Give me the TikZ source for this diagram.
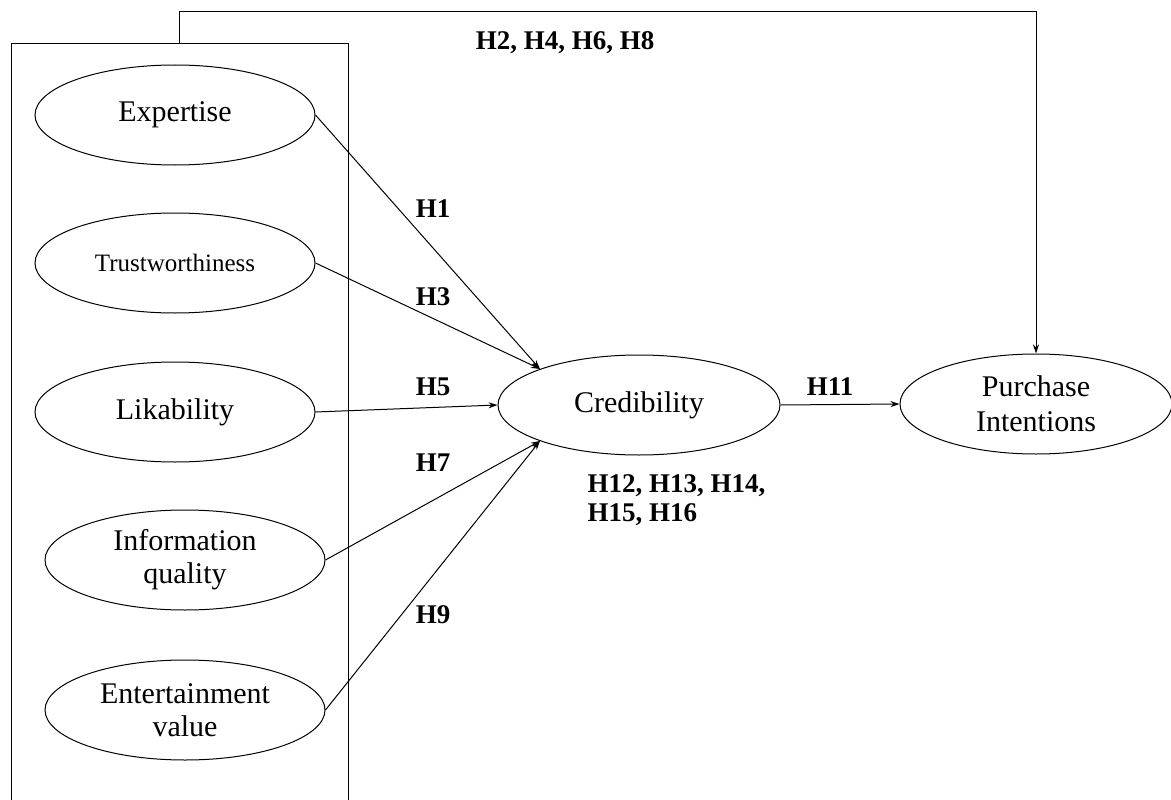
\documentclass[tikz,border=0pt]{standalone}
\usepackage{fontspec}
\setmainfont{Liberation Serif}
\usetikzlibrary{positioning,shapes.geometric,arrows.meta}

\begin{document}
\begin{tikzpicture}[x=1pt,y=-1pt,>={Stealth[length=9pt,width=6pt]},line width=1pt,
  var/.style={ellipse,draw,minimum width=280pt,minimum height=100pt,inner sep=0pt,
    align=center,font=\fontsize{30}{33}\selectfont},
  hyp/.style={font=\fontsize{27}{29}\selectfont\bfseries}]
  \useasboundingbox (0,0) rectangle (1171,800);
  % box round the source constructs
  \draw (11,800) -- (11,44) -- (348,44) -- (348,800);
  \coordinate (boxtop) at (179,44);
  \node[var] (exp) at (175,115) {Expertise};
  \node[var,font=\fontsize{25}{28}\selectfont] (tru) at (175,263) {Trustworthiness};
  \node[var] (lik) at (175,412) {Likability};
  \node[var] (inf) at (185,560) {Information\\quality};
  \node[var] (ent) at (185,710) {Entertainment\\value};
  \node[var,minimum width=282pt] (cred) at (639,405) {Credibility};
  \node[var,minimum width=272pt,font=\fontsize{30}{35}\selectfont] (pi) at (1036,404) {Purchase\\Intentions};
  \draw[->] (exp.east) -- (cred.160);
  \draw[->] (tru.east) -- (cred.160);
  \draw[->] (lik.east) -- (cred.west);
  \draw[->] (inf.east) -- (cred.200);
  \draw[->] (ent.east) -- (cred.200);
  \draw[->] (cred.east) -- (pi.west);
  \draw[->] (boxtop) -- ++(0,-32) -| (pi.north);
  % hypotheses
  \node[hyp] (h1) at (433,209) {H1};
  \node[hyp] (h3) at (433,297) {H3};
  \node[hyp] (h5) at (433,387) {H5};
  \node[hyp] (h7) at (433,463) {H7};
  \node[hyp] (h9) at (433,615) {H9};
  \node[hyp] (h11) at (830,387) {H11};
  \node[hyp] (h2) at (565,43) {H2, H4, H6, H8};
  \node[hyp,align=left,anchor=north west,inner sep=0pt] (h12) at (587,474) {H12, H13, H14,\\H15, H16};
\end{tikzpicture}
\end{document}
